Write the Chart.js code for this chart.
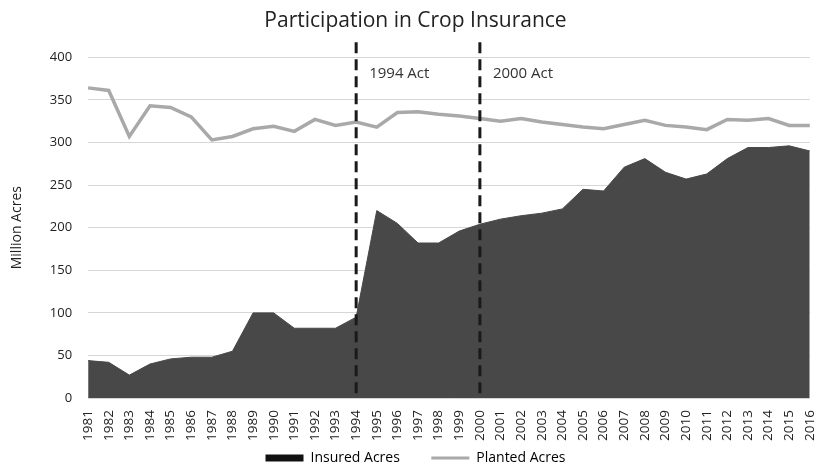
<!DOCTYPE html>
<html>
<head>
<meta charset="utf-8">
<script src="https://cdn.jsdelivr.net/npm/chart.js@4/dist/chart.umd.min.js"></script>
<style>
  body { margin: 0; background: #fff; }
  #wrap { width: 830px; height: 475px; }
</style>
</head>
<body>
<div id="wrap"><canvas id="cropChart"></canvas></div>
<script>
const years = [];
for (let y = 1981; y <= 2016; y++) years.push(String(y));

const insuredAcres = [44, 42, 27, 40, 46, 48, 48, 55, 100, 100, 82, 82, 82, 95,
  220, 205, 182, 182, 196, 204, 210, 214, 217, 222, 245, 243, 271, 281, 265,
  257, 263, 281, 294, 294, 296, 290];

const plantedAcres = [364, 361, 307, 343, 341, 330, 303, 307, 316, 319, 313,
  327, 320, 324, 318, 335, 336, 333, 331, 328, 325, 328, 324, 321, 318, 316,
  321, 326, 320, 318, 315, 327, 326, 328, 320, 320];

const actYears = ['1994', '2000'];
const actLabels = ['1994 Act', '2000 Act'];

const fontFam = '"Open Sans", "Liberation Sans", sans-serif';

// dashed lines marking the farm acts
const actLines = {
  id: 'actLines',
  afterDatasetsDraw(chart) {
    const ctx = chart.ctx;
    const xs = chart.scales.x;
    const area = chart.chartArea;
    ctx.save();
    actYears.forEach((yr, i) => {
      const x = xs.getPixelForValue(years.indexOf(yr));
      ctx.strokeStyle = '#1a1a1a';
      ctx.lineWidth = 3;
      ctx.setLineDash([11, 6]);
      ctx.beginPath();
      ctx.moveTo(x, area.top - 15);
      ctx.lineTo(x, area.bottom);
      ctx.stroke();
      ctx.setLineDash([]);
      ctx.fillStyle = '#333';
      ctx.font = '15px ' + fontFam;
      ctx.textBaseline = 'middle';
      ctx.fillText(actLabels[i], x + 13, area.top + 17);
    });
    ctx.restore();
  }
};

new Chart(document.getElementById('cropChart'), {
  type: 'line',
  data: {
    labels: years,
    datasets: [{
      label: 'Insured Acres',
      data: insuredAcres,
      fill: 'origin',
      backgroundColor: '#484848',
      borderColor: '#484848',
      borderWidth: 1,
      pointRadius: 0,
      tension: 0,
      order: 2
    }, {
      label: 'Planted Acres',
      data: plantedAcres,
      fill: false,
      borderColor: '#a9a9a9',
      borderWidth: 3.5,
      pointRadius: 0,
      tension: 0,
      order: 1
    }]
  },
  options: {
    responsive: true,
    maintainAspectRatio: false,
    animation: false,
    layout: { padding: { top: 8, right: 4, left: 5, bottom: 0 } },
    plugins: {
      title: {
        display: true,
        text: 'Participation in Crop Insurance',
        color: '#222',
        font: { family: fontFam, size: 21, weight: 'normal' },
        padding: { top: 0, bottom: 24 }
      },
      legend: {
        position: 'bottom',
        labels: {
          color: '#222',
          font: { family: fontFam, size: 14 },
          usePointStyle: true,
          pointStyleWidth: 38,
          boxHeight: 7,
          padding: 6,
          generateLabels(chart) {
            return chart.data.datasets.map((ds, i) => ({
              // extra spaces widen the gap between the two items
              text: i === 0 ? ds.label + '       ' : ds.label,
              fillStyle: i === 0 ? '#111' : '#a9a9a9',
              strokeStyle: i === 0 ? '#111' : '#a9a9a9',
              lineWidth: i === 0 ? 0 : 3,
              pointStyle: i === 0 ? 'rect' : 'line',
              datasetIndex: i
            }));
          }
        }
      },
      tooltip: { enabled: false }
    },
    scales: {
      x: {
        offset: false,
        grid: { display: false },
        border: { display: false },
        ticks: {
          color: '#222',
          font: { family: fontFam, size: 13.5 },
          minRotation: 90,
          maxRotation: 90,
          autoSkip: false,
          padding: 4
        }
      },
      y: {
        min: 0,
        max: 400,
        border: { display: false },
        grid: { color: '#d6d6d6', lineWidth: 1, drawTicks: false },
        ticks: {
          stepSize: 50,
          color: '#222',
          font: { family: fontFam, size: 13 },
          padding: 16
        },
        title: {
          display: true,
          text: 'Million Acres',
          color: '#222',
          font: { family: fontFam, size: 14 },
          padding: { bottom: 8 }
        }
      }
    }
  },
  plugins: [actLines]
});
</script>
</body>
</html>
